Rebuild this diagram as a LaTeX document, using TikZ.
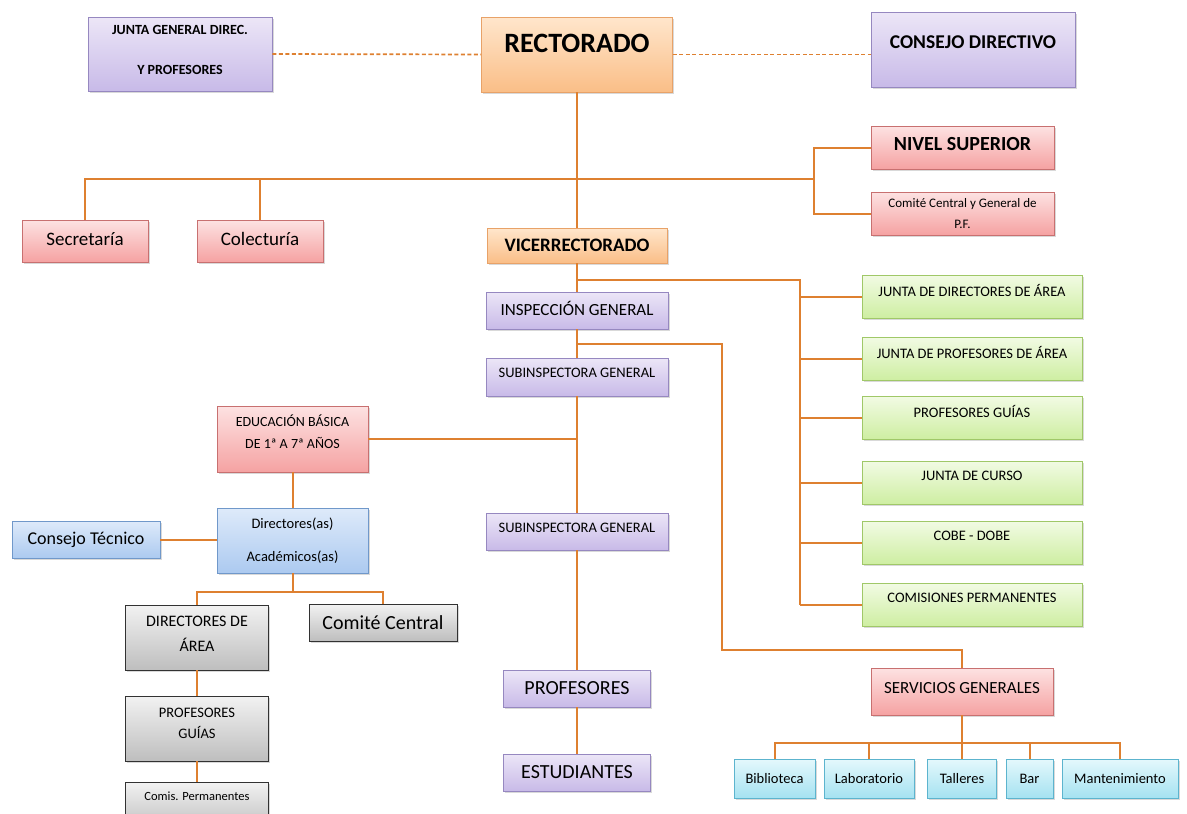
\documentclass[tikz,border=0pt]{standalone}
\usepackage{fontspec}
\setmainfont{Carlito}
\usepackage{xcolor}
\usetikzlibrary{calc,positioning,shadows}
\definecolor{linkorange}{RGB}{222,128,48}
\definecolor{purpletop}{RGB}{236,230,247}
\definecolor{purplebot}{RGB}{200,186,232}
\definecolor{purpleline}{RGB}{150,136,192}
\definecolor{orangetop}{RGB}{255,230,204}
\definecolor{orangebot}{RGB}{250,190,135}
\definecolor{orangeline}{RGB}{232,162,104}
\definecolor{redtop}{RGB}{253,226,226}
\definecolor{redbot}{RGB}{245,162,162}
\definecolor{redline}{RGB}{200,112,112}
\definecolor{greentop}{RGB}{242,251,228}
\definecolor{greenbot}{RGB}{206,238,162}
\definecolor{greenline}{RGB}{160,200,104}
\definecolor{bluetop}{RGB}{222,234,250}
\definecolor{bluebot}{RGB}{172,202,240}
\definecolor{blueline}{RGB}{112,152,202}
\definecolor{greytop}{RGB}{242,242,242}
\definecolor{greybot}{RGB}{190,190,190}
\definecolor{greyline}{RGB}{50,50,50}
\definecolor{cyantop}{RGB}{228,248,252}
\definecolor{cyanbot}{RGB}{165,226,241}
\definecolor{cyanline}{RGB}{92,180,206}
\tikzset{%
	box/.style       = {draw, rectangle, text centered, align=center, inner sep=2pt, line width=0.8pt,
	                    drop shadow={shadow xshift=1.5pt, shadow yshift=-1.5pt, opacity=.3}},
	purplebox/.style = {box, draw=purpleline, top color=purpletop, bottom color=purplebot},
	orangebox/.style = {box, draw=orangeline, top color=orangetop, bottom color=orangebot},
	redbox/.style    = {box, draw=redline, top color=redtop, bottom color=redbot},
	greenbox/.style  = {box, draw=greenline, top color=greentop, bottom color=greenbot,
	                    minimum width=220pt, minimum height=43pt, text depth=13pt, txt={14.5}{17}},
	bluebox/.style   = {box, draw=blueline, top color=bluetop, bottom color=bluebot},
	greybox/.style   = {box, draw=greyline, top color=greytop, bottom color=greybot},
	cyanbox/.style   = {box, draw=cyanline, top color=cyantop, bottom color=cyanbot,
	                    minimum height=39pt, txt={14.5}{17}},
	txt/.style 2 args  = {font=\fontsize{#1}{#2}\selectfont},
	btxt/.style 2 args = {font=\fontsize{#1}{#2}\selectfont\bfseries},
	link/.style      = {draw=linkorange, line width=2pt},
	dashlink/.style  = {draw=linkorange, line width=1.7pt, dash pattern=on 4pt off 2.5pt},
}

\begin{document}
\begin{tikzpicture}[x=1pt,y=-1pt]
	\useasboundingbox (0,0) rectangle (1187,814);
	% cabecera
	\node[purplebox, btxt={14}{17}, minimum width=184pt, minimum height=74pt, text depth=8pt] (junta) at (180,54) {JUNTA GENERAL DIREC.\\[23pt] Y PROFESORES};
	\node[orangebox, btxt={28}{34}, minimum width=191pt, minimum height=75pt, text depth=22pt] (rector) at (577,54.5) {RECTORADO};
	\node[purplebox, btxt={19.5}{23}, minimum width=204pt, minimum height=75pt, text depth=15pt] (consejo) at (973,49.5) {CONSEJO DIRECTIVO};
	\node[redbox, btxt={20}{24}, minimum width=183pt, minimum height=43pt, text depth=7pt] (nivel) at (962.5,147.5) {NIVEL SUPERIOR};
	\node[redbox, txt={13}{15}, minimum width=183pt, minimum height=43pt] (comitepf) at (962.5,213.5) {Comité Central y General de\\[6pt] P.F.};
	\node[redbox, txt={19}{23}, minimum width=126pt, minimum height=42pt, text depth=4pt] (secre) at (85,241) {Secretaría};
	\node[redbox, txt={19}{23}, minimum width=126pt, minimum height=42pt, text depth=4pt] (colec) at (260,241) {Colecturía};
	% columna central
	\node[orangebox, btxt={19}{23}, minimum width=180pt, minimum height=35pt] (vice) at (577,245.5) {VICERRECTORADO};
	\node[purplebox, txt={17}{20}, minimum width=182pt, minimum height=37pt, text depth=5pt] (insp) at (577,310.5) {INSPECCIÓN GENERAL};
	\node[purplebox, txt={14.5}{17}, minimum width=182pt, minimum height=38pt, text depth=8pt] (subA) at (577,377) {SUBINSPECTORA GENERAL};
	\node[purplebox, txt={14.5}{17}, minimum width=182pt, minimum height=37pt, text depth=8pt] (subB) at (577,531.5) {SUBINSPECTORA GENERAL};
	\node[purplebox, txt={20}{24}, minimum width=147pt, minimum height=37pt] (prof) at (577,688.5) {PROFESORES};
	\node[purplebox, txt={20}{24}, minimum width=147pt, minimum height=37pt] (estud) at (577,772.5) {ESTUDIANTES};
	% juntas
	\node[greenbox] (jdir) at (972,296.5) {JUNTA DE DIRECTORES DE ÁREA};
	\node[greenbox] (jprof) at (972,358.5) {JUNTA DE PROFESORES DE ÁREA};
	\node[greenbox] (pguia) at (972,417.5) {PROFESORES GUÍAS};
	\node[greenbox] (jcurso) at (972,482.5) {JUNTA DE CURSO};
	\node[greenbox] (cobe) at (972,542.5) {COBE - DOBE};
	\node[greenbox] (comis) at (972,604.5) {COMISIONES PERMANENTES};
	% educacion basica
	\node[redbox, txt={14}{17}, minimum width=151pt, minimum height=66pt, text depth=14pt] (edu) at (292.5,439) {EDUCACIÓN BÁSICA\\[5pt] DE 1ª A 7ª AÑOS};
	\node[bluebox, txt={14.5}{17}, minimum width=151pt, minimum height=65pt] (direc) at (292.5,540.5) {Directores(as)\\[16pt] Académicos(as)};
	\node[bluebox, txt={18}{22}, minimum width=148pt, minimum height=37pt] (ctec) at (86,539.5) {Consejo Técnico};
	\node[greybox, txt={16}{19.5}, minimum width=143pt, minimum height=65pt, text depth=8pt] (darea) at (197,637.5) {DIRECTORES DE\\[5.5pt] ÁREA};
	\node[greybox, txt={20}{24}, minimum width=148pt, minimum height=37pt] (ccentral) at (383,622.5) {Comité Central};
	\node[greybox, txt={14.5}{17}, minimum width=143pt, minimum height=65pt, text depth=10pt] (pgg) at (197,728.5) {PROFESORES\\[4pt] GUÍAS};
	\node[greybox, txt={12.5}{15}, minimum width=143pt, minimum height=48pt, text depth=20pt] (cperm) at (197,806) {Comis. Permanentes};
	% servicios
	\node[redbox, txt={17}{20}, minimum width=182pt, minimum height=47pt, text depth=8pt] (serv) at (962,691.5) {SERVICIOS GENERALES};
	\node[cyanbox, minimum width=81pt] (biblio) at (774.5,778.5) {Biblioteca};
	\node[cyanbox, minimum width=90pt] (labor) at (869,778.5) {Laboratorio};
	\node[cyanbox, minimum width=69pt] (taller) at (962,778.5) {Talleres};
	\node[cyanbox, minimum width=47pt] (bar) at (1029.5,778.5) {Bar};
	\node[cyanbox, minimum width=116pt] (mant) at (1120,778.5) {Mantenimiento};

	\coordinate (nivbar) at (814,179);
	\coordinate (greenbus) at (800,280);
	\coordinate (servturn) at (722,344);
	\coordinate (servbend) at (722,650);
	\coordinate (dirbus) at (292.5,592);
	\coordinate (cyanbus) at (962,743);

	\draw[dashlink] (junta.east) -- (rector.west);
	\draw[dashlink] (rector.east) -- (rector.east -| consejo.west);
	\draw[link] (rector.south) -- (vice.north);
	\draw[link] (secre.north) |- (nivbar);
	\draw[link] (colec.north) -- (colec.north |- nivbar);
	\draw[link] (nivel.west) -| (nivbar) |- (comitepf.west);
	\draw[link] (vice.south) -- (insp.north);
	\draw[link] (vice.south |- greenbus) -- (greenbus) -- (greenbus |- comis.west);
	\foreach \n in {jdir,jprof,pguia,jcurso,cobe,comis} \draw[link] (greenbus |- \n.west) -- (\n.west);
	\draw[link] (insp.south) -- (subA.north);
	\draw[link] (insp.south |- servturn) -- (servturn) -- (servbend) -| (serv.north);
	\draw[link] (subA.south) -- (subB.north);
	\draw[link] (edu.east) -- (edu.east -| subA.south);
	\draw[link] (subB.south) -- (prof.north);
	\draw[link] (prof.south) -- (estud.north);
	\draw[link] (edu.south) -- (direc.north);
	\draw[link] (ctec.east) -- (ctec.east -| direc.west);
	\draw[link] (direc.south) -- (dirbus);
	\draw[link] (darea.north) |- (dirbus) -| (ccentral.north);
	\draw[link] (darea.south) -- (pgg.north);
	\draw[link] (pgg.south) -- (cperm.north);
	\draw[link] (serv.south) -- (cyanbus);
	\draw[link] (biblio.north) |- (cyanbus) -| (mant.north);
	\foreach \n in {labor,taller,bar} \draw[link] (\n.north) -- (\n.north |- cyanbus);
	%	\draw[link] (cperm.south) -- ++(0,20);
\end{tikzpicture}
\end{document}
